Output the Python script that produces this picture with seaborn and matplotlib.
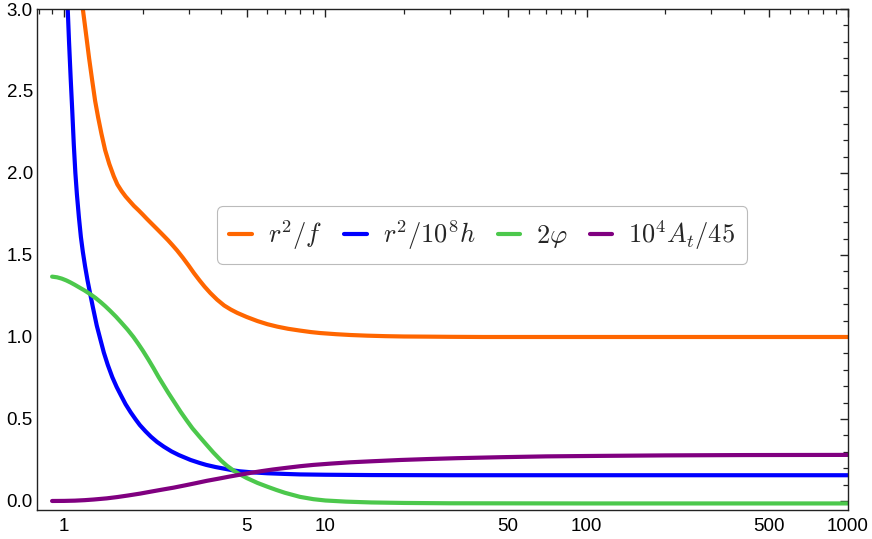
import numpy as np
import pandas as pd
import matplotlib
matplotlib.use("Agg")
import matplotlib.pyplot as plt
import matplotlib.ticker as mticker
import seaborn as sns

# ── Data ─────────────────────────────────────────────────────────────────────
orange_x = [1.16, 1.18, 1.20, 1.22, 1.247, 1.28, 1.315, 1.35, 1.39, 1.436, 1.49, 1.55,
            1.6, 1.66, 1.72, 1.78, 1.85, 1.93, 2.0, 2.07, 2.18, 2.29, 2.4, 2.5, 2.6,
            2.71, 2.85, 3.0, 3.14, 3.3, 3.45, 3.63, 3.85, 4.1, 4.35, 4.6, 5.0, 5.5,
            6.0, 6.55, 7.2, 8.0, 8.8, 9.57, 11.0, 12.5, 14.5, 17.0, 20.0, 25.0, 30.0,
            40.0, 1000.0]
orange_y = [3.1, 3.0, 2.91, 2.82, 2.70, 2.57, 2.44, 2.34, 2.24, 2.14, 2.055, 1.98,
            1.93, 1.89, 1.857, 1.83, 1.80, 1.772, 1.747, 1.722, 1.686, 1.652, 1.619,
            1.59, 1.56, 1.527, 1.483, 1.435, 1.39, 1.345, 1.307, 1.268, 1.228, 1.192,
            1.167, 1.147, 1.122, 1.097, 1.078, 1.063, 1.05, 1.039, 1.03, 1.024, 1.017,
            1.012, 1.008, 1.005, 1.003, 1.002, 1.001, 1.0, 1.0]

blue_x = [1.0, 1.02, 1.033, 1.045, 1.06, 1.075, 1.09, 1.105, 1.12, 1.14, 1.16, 1.18,
          1.204, 1.23, 1.258, 1.29, 1.334, 1.38, 1.42, 1.47, 1.53, 1.59, 1.65, 1.72,
          1.8, 1.88, 1.95, 2.05, 2.15, 2.27, 2.41, 2.58, 2.75, 3.05, 3.3, 3.5, 3.8,
          4.1, 4.46, 4.7, 5.2, 6.0, 7.0, 8.0, 10.0, 15.0, 30.0, 1000.0]
blue_y = [3.6, 3.2, 3.0, 2.80, 2.58, 2.38, 2.17, 2.0, 1.87, 1.73, 1.61, 1.52, 1.43,
          1.345, 1.266, 1.18, 1.07, 0.98, 0.905, 0.83, 0.755, 0.695, 0.645, 0.59,
          0.54, 0.497, 0.463, 0.425, 0.392, 0.36, 0.331, 0.302, 0.28, 0.25, 0.232,
          0.22, 0.207, 0.197, 0.186, 0.181, 0.175, 0.169, 0.165, 0.162, 0.16, 0.158,
          0.157, 0.157]

green_x = [0.9, 0.94, 0.98, 1.02, 1.057, 1.1, 1.15, 1.2, 1.258, 1.32, 1.38, 1.44, 1.5,
           1.58, 1.65, 1.75, 1.843, 1.92, 2.0, 2.1, 2.2, 2.3, 2.4, 2.5, 2.62, 2.79,
           2.95, 3.1, 3.3, 3.5, 3.73, 4.0, 4.2, 4.46, 4.7, 5.0, 5.5, 6.0, 6.5, 7.0,
           8.0, 9.0, 10.0, 12.0, 15.0, 20.0, 30.0, 100.0, 1000.0]
green_y = [1.368, 1.364, 1.356, 1.345, 1.333, 1.318, 1.30, 1.283, 1.262, 1.238, 1.213,
           1.187, 1.16, 1.124, 1.091, 1.045, 1.0, 0.96, 0.918, 0.864, 0.81, 0.756,
           0.708, 0.662, 0.612, 0.545, 0.49, 0.443, 0.392, 0.345, 0.295, 0.245, 0.215,
           0.185, 0.163, 0.14, 0.11, 0.087, 0.067, 0.05, 0.025, 0.011, 0.003, -0.004,
           -0.009, -0.012, -0.014, -0.015, -0.015]

purple_x = [0.9, 1.0, 1.1, 1.2, 1.3, 1.457, 1.6, 1.75, 1.955, 2.15, 2.35, 2.62, 2.9,
            3.2, 3.52, 3.9, 4.3, 4.7, 5.2, 5.7, 6.3, 7.0, 8.0, 9.0, 10.5, 12.5, 15.0,
            19.4, 25.0, 32.0, 47.0, 70.0, 113.0, 200.0, 400.0, 1000.0]
purple_y = [0.0, 0.0005, 0.002, 0.005, 0.009, 0.016, 0.024, 0.033, 0.045, 0.057,
            0.068, 0.081, 0.095, 0.109, 0.123, 0.136, 0.149, 0.16, 0.172, 0.182, 0.192,
            0.201, 0.212, 0.22, 0.228, 0.236, 0.242, 0.25, 0.256, 0.261, 0.267, 0.272,
            0.275, 0.278, 0.28, 0.281]

series_labels = [r'$r^2/f$', r'$r^2/10^8h$', r'$2\varphi$', r'$10^4A_t/45$']
series_colors = ['#FF6600', '#0000FF', '#4CC84C', '#800080']

x_major = [1, 5, 10, 50, 100, 500, 1000]
x_minor = [0.8, 0.9, 2, 3, 4, 6, 7, 8, 9, 20, 30, 40, 60, 70, 80, 90,
           200, 300, 400, 600, 700, 800, 900]

# ── Plot ─────────────────────────────────────────────────────────────────────
sns.set_style('white')
plt.rcParams['font.family'] = ['Liberation Sans', 'DejaVu Sans']
plt.rcParams['mathtext.fontset'] = 'cm'

fig = plt.figure(figsize=(8.72, 5.39), dpi=100)
ax = fig.add_axes([37 / 872, 1 - 510 / 539, 811 / 872, 501 / 539])

all_x = [orange_x, blue_x, green_x, purple_x]
all_y = [orange_y, blue_y, green_y, purple_y]
for xs, ys, lab, col in zip(all_x, all_y, series_labels, series_colors):
    df = pd.DataFrame({'x': xs, 'y': ys})
    sns.lineplot(data=df, x='x', y='y', ax=ax, color=col, lw=3, label=lab,
                 sort=False, estimator=None)

ax.set_xscale('log')
ax.set_xlim(0.788, 1000)
ax.set_ylim(-0.055, 3.0)
ax.set_xlabel('')
ax.set_ylabel('')

ax.xaxis.set_major_locator(mticker.FixedLocator(x_major))
ax.xaxis.set_major_formatter(mticker.FixedFormatter([str(v) for v in x_major]))
ax.xaxis.set_minor_locator(mticker.FixedLocator(x_minor))
ax.xaxis.set_minor_formatter(mticker.NullFormatter())
ax.yaxis.set_major_locator(mticker.MultipleLocator(0.5))
ax.yaxis.set_major_formatter(mticker.FormatStrFormatter('%.1f'))
ax.yaxis.set_minor_locator(mticker.MultipleLocator(0.1))

ax.tick_params(which='both', direction='in', top=True, right=True,
               color='#222222', labelsize=13.5, labelcolor='black')
ax.tick_params(which='major', length=5.5, width=1.0)
ax.tick_params(which='minor', length=3.3, width=0.9)
ax.tick_params(axis='x', pad=6)
ax.tick_params(axis='y', pad=3)

for sp in ax.spines.values():
    sp.set_color('#222222')
    sp.set_linewidth(1.0)

leg = ax.legend(loc='center', bbox_to_anchor=(0.549, 0.549), ncol=4,
                fontsize=19, frameon=True, handlelength=0.85, handletextpad=0.6,
                columnspacing=0.85, borderpad=0.45, fancybox=True)
leg.get_frame().set_edgecolor('#aaaaaa')
leg.get_frame().set_linewidth(0.8)
for h in leg.get_lines():
    h.set_linewidth(3)

fig.savefig('out.png', dpi=100)
